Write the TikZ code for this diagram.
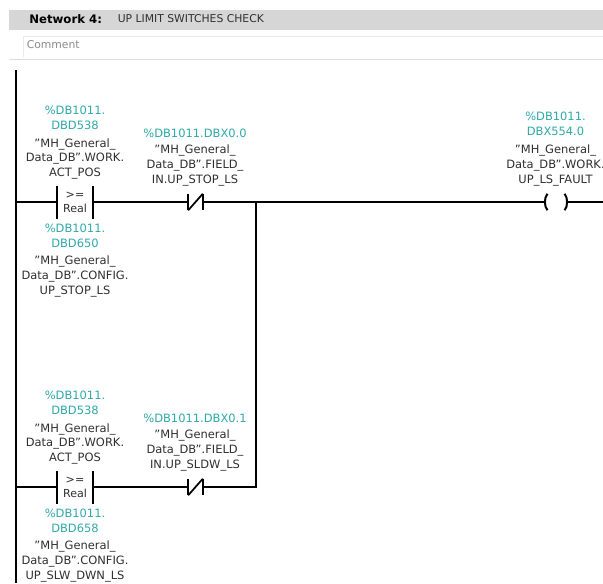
\documentclass[tikz,border=0pt]{standalone}
\usepackage{fontspec}
\setmainfont{DejaVu Sans}
\newcommand{\qt}{{\char34}}
\definecolor{teal1}{HTML}{2FA9A9}
\definecolor{txt}{HTML}{303030}
\definecolor{band}{HTML}{D6D6D6}
\definecolor{rulec}{HTML}{DCDCEC}
\tikzset{
 px/.style={x=0.75pt,y=-0.75pt},
 wire/.style={line width=1.5pt,black},
 lab/.style={font=\fontsize{8.6}{11.2}\selectfont,text=txt,align=center,inner sep=0pt,anchor=center,yshift=-1.1pt},
 addr/.style={font=\fontsize{8.6}{11.2}\selectfont,text=teal1,align=center,inner sep=0pt,anchor=center},
 cmp/.style={minimum width=27pt,minimum height=24pt,inner sep=0pt,align=center,font=\fontsize{8.3}{11}\selectfont,text=txt},
 nc/.style={minimum width=10.5pt,minimum height=12pt,inner sep=0pt},
 coil/.style={minimum width=16.5pt,minimum height=12pt,inner sep=0pt},
}
\begin{document}
\begin{tikzpicture}[px]
\useasboundingbox (0,0) rectangle (603,583);
\fill[white] (0,0) rectangle (603,583);
\fill[band] (9,10) rectangle (603,30);
\node[anchor=west,inner sep=0pt,font=\fontsize{8.8}{10}\selectfont\bfseries,text=black] (nettitle) at (29,19.5) {Network 4:};
\node[anchor=west,inner sep=0pt,font=\fontsize{8.1}{10}\selectfont,text=txt] (netdesc) at (117.5,19) {UP LIMIT SWITCHES CHECK};
\draw[rulec!60!white,line width=0.75pt] (23.5,57) -- (23.5,36.5) -- (603,36.5);
\draw[rulec,line width=0.75pt] (9,59.5) -- (603,59.5);
\node[anchor=west,inner sep=0pt,font=\fontsize{8.1}{10}\selectfont,text=black!45] (comment) at (26.5,44.5) {Comment};
% anchors
\coordinate (railtop) at (15.5,70);
\coordinate (railbot) at (15.5,583);
\coordinate (railA) at (15.5,202);
\coordinate (railB) at (15.5,487);
\coordinate (endR) at (603,202);
\coordinate (joinA) at (255.5,202);
\coordinate (joinB) at (255.5,487);
\draw[wire] (railtop) -- (railbot);
% elements
\node[cmp] (cmpA) at (75,202.5) {>=\\[-0.5pt]Real};
\node[cmp] (cmpB) at (75,487.5) {>=\\[-0.5pt]Real};
\node[nc] (ncA) at (195.5,202) {};
\node[nc] (ncB) at (195.5,487) {};
\node[coil] (coilA) at (556,202) {};
% wires
\draw[wire] (railA) -- (railA -| cmpA.west);
\draw[wire] (railA -| cmpA.east) -- (ncA.west);
\draw[wire] (ncA.east) -- (joinA) -- (coilA.west);
\draw[wire] (coilA.east) -- (endR);
\draw[wire] (railB) -- (railB -| cmpB.west);
\draw[wire] (railB -| cmpB.east) -- (ncB.west);
\draw[wire] (ncB.east) -- (joinB) -- (joinA);
% comparator bars
\foreach \n in {cmpA,cmpB}{
 \draw[wire] (\n.north west) -- (\n.south west);
 \draw[wire] (\n.north east) -- (\n.south east);
}
% NC contacts
\foreach \n in {ncA,ncB}{
 \draw[wire] (\n.north west) -- (\n.south west);
 \draw[wire] (\n.north east) -- (\n.south east);
 \draw[line width=1.3pt] (\n.south west) -- (\n.north east);
}
% coil
\draw[wire] ([xshift=2pt]coilA.north west) .. controls ([xshift=-0.5pt,yshift=-3pt]coilA.north west) and ([xshift=-0.5pt,yshift=3pt]coilA.south west) .. ([xshift=2pt]coilA.south west);
\draw[wire] ([xshift=-2pt]coilA.north east) .. controls ([xshift=0.5pt,yshift=-3pt]coilA.north east) and ([xshift=0.5pt,yshift=3pt]coilA.south east) .. ([xshift=-2pt]coilA.south east);
% labels
\node[addr] (a1) at (75,118) {\%DB1011.\\DBD538};
\node[lab] (t1) at (75,157.5) {\qt MH\_General\_\\Data\_DB\qt .WORK.\\ACT\_POS};
\node[addr] (a2) at (75,236) {\%DB1011.\\DBD650};
\node[lab] (t2) at (75,275) {\qt MH\_General\_\\Data\_DB\qt .CONFIG.\\UP\_STOP\_LS};
\node[addr] (a3) at (195,133) {\%DB1011.DBX0.0};
\node[lab] (t3) at (195,164) {\qt MH\_General\_\\Data\_DB\qt .FIELD\_\\IN.UP\_STOP\_LS};
\node[addr] (a4) at (555.5,124) {\%DB1011.\\DBX554.0};
\node[lab] (t4) at (555.5,164) {\qt MH\_General\_\\Data\_DB\qt .WORK.\\UP\_LS\_FAULT};
\node[addr] (a5) at (75,403) {\%DB1011.\\DBD538};
\node[lab] (t5) at (75,442.5) {\qt MH\_General\_\\Data\_DB\qt .WORK.\\ACT\_POS};
\node[addr] (a6) at (75,520.5) {\%DB1011.\\DBD658};
\node[lab] (t6) at (75,560) {\qt MH\_General\_\\Data\_DB\qt .CONFIG.\\UP\_SLW\_DWN\_LS};
\node[addr] (a7) at (195,418) {\%DB1011.DBX0.1};
\node[lab] (t7) at (195,449) {\qt MH\_General\_\\Data\_DB\qt .FIELD\_\\IN.UP\_SLDW\_LS};
\end{tikzpicture}
\end{document}
